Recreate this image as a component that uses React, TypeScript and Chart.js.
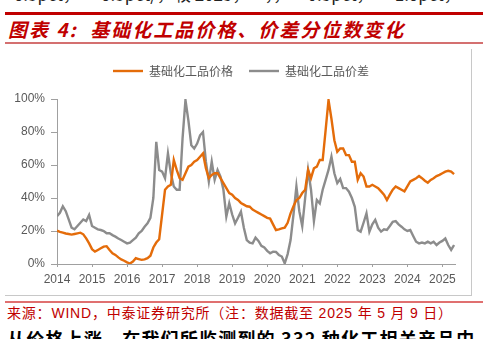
import React, { useEffect, useRef } from 'react';
import { Chart, registerables } from 'chart.js';

Chart.register(...registerables);

// ---- data (monthly, Jan 2014 – May 2025) ----
const firstYear = 2014;
const lastX = 2025.36;
const yearTicks = [2014, 2015, 2016, 2017, 2018, 2019, 2020, 2021, 2022, 2023, 2024, 2025];
const percentTicks = [0, 20, 40, 60, 80, 100];
const seriesNames = ['基础化工品价格', '基础化工品价差'];

const priceValues = [
  20.2, 19.5, 19.0, 18.5, 18.2, 17.8, 18.2, 18.6, 19.0, 18.0, 15.5, 12.5, // 2014
  9.0, 7.5, 8.5, 9.5, 10.5, 10.8, 8.5, 6.5, 5.5, 4.0, 2.8, 2.0, // 2015
  1.0, 0.3, 1.5, 3.5, 3.0, 2.5, 2.8, 3.5, 5.0, 10.0, 13.0, 15.0, // 2016
  30.0, 45.0, 47.0, 48.0, 63.0, 57.0, 52.0, 51.0, 55.0, 59.0, 60.0, 62.0, // 2017
  63.0, 65.0, 67.0, 58.0, 52.0, 54.0, 55.0, 55.0, 52.0, 49.0, 46.0, 43.0, // 2018
  42.0, 40.0, 38.8, 37.0, 36.0, 35.0, 34.7, 33.0, 32.0, 31.0, 30.0, 29.0, // 2019
  28.0, 27.5, 24.0, 20.6, 21.0, 21.6, 22.0, 25.0, 30.7, 35.0, 38.8, 40.0, // 2020
  43.0, 45.0, 57.0, 52.0, 58.0, 59.0, 63.0, 63.0, 81.0, 99.4, 88.0, 75.0, // 2021
  68.0, 70.0, 70.0, 66.0, 66.0, 62.0, 62.0, 51.0, 55.0, 53.0, 47.0, 47.0, // 2022
  48.0, 47.0, 46.0, 44.0, 42.0, 38.8, 42.0, 45.0, 47.0, 46.0, 45.0, 44.0, // 2023
  47.0, 50.0, 51.0, 52.0, 53.3, 52.0, 50.5, 49.3, 51.0, 52.0, 53.3, 54.0, // 2024
  55.0, 56.0, 56.5, 56.0, 54.5, // 2025
];

const spreadValues = [
  29.0, 31.0, 35.0, 32.0, 27.0, 22.0, 21.0, 23.0, 25.0, 27.0, 26.0, 29.7, // 2014
  23.0, 22.0, 21.0, 20.6, 20.0, 18.6, 18.6, 17.5, 16.6, 15.5, 14.5, 13.5, // 2015
  12.5, 13.0, 14.5, 16.0, 18.6, 20.0, 22.6, 24.6, 28.0, 40.0, 74.0, 57.0, // 2016
  56.0, 52.0, 67.0, 55.0, 47.0, 45.0, 45.0, 76.0, 99.4, 87.0, 72.0, 70.0, // 2017
  73.0, 78.0, 80.0, 62.0, 50.0, 62.0, 51.0, 57.0, 53.0, 45.0, 28.7, 36.8, // 2018
  30.0, 24.6, 28.0, 31.7, 22.0, 14.5, 13.0, 12.5, 16.0, 14.0, 11.0, 10.0, // 2019
  8.0, 6.5, 7.5, 7.3, 5.5, 4.5, 0.4, 6.0, 14.5, 30.0, 47.0, 32.0, // 2020
  23.0, 40.0, 57.0, 45.0, 26.0, 38.8, 36.7, 45.0, 51.0, 57.0, 65.0, 55.0, // 2021
  49.0, 51.5, 46.0, 46.0, 43.8, 40.0, 34.7, 20.6, 19.6, 25.0, 30.7, 19.6, // 2022
  24.0, 26.7, 22.0, 19.6, 21.0, 20.6, 23.0, 25.6, 26.0, 24.0, 22.6, 21.0, // 2023
  20.0, 20.6, 17.0, 13.5, 12.5, 13.0, 12.5, 13.5, 12.5, 13.5, 11.5, 13.0, // 2024
  14.0, 15.5, 11.5, 8.5, 11.5, // 2025
];

const ORANGE = '#E46C0A';
const GRAY = '#8C8C8C';
const AXIS = '#A0A0A0';
const TICK = '#595959';
const RED = '#C00000';

const monthToX = (i: number) => firstYear + i / 12;

const legendSpacer = {
  id: 'legendSpacer',
  beforeInit(chart: any) {
    const legend = chart.legend;
    if (!legend) return;
    const orig = legend.fit;
    legend.fit = function () {
      orig.call(this);
      this.height += 12;
    };
  },
  afterLayout(chart: any) {
    if (chart.legend) chart.legend.left += 21;
  },
};

function ChartCanvas() {
  const ref = useRef<HTMLCanvasElement | null>(null);
  useEffect(() => {
    if (!ref.current) return;
    const chart = new Chart(ref.current, {
      type: 'line',
      data: {
        datasets: [
          {
            label: seriesNames[0],
            data: priceValues.map((v, i) => ({ x: monthToX(i), y: v })),
            borderColor: ORANGE,
            backgroundColor: ORANGE,
            borderWidth: 2.4,
            pointRadius: 0,
            tension: 0,
            fill: false,
          },
          {
            label: seriesNames[1],
            data: spreadValues.map((v, i) => ({ x: monthToX(i), y: v })),
            borderColor: GRAY,
            backgroundColor: GRAY,
            borderWidth: 2.4,
            pointRadius: 0,
            tension: 0,
            fill: false,
          },
        ],
      },
      options: {
        animation: false,
        responsive: false,
        maintainAspectRatio: false,
        layout: { padding: { left: 0, right: 16, top: 0, bottom: 0 } },
        plugins: {
          legend: {
            display: true,
            position: 'top',
            labels: {
              usePointStyle: true,
              pointStyle: 'line',
              pointStyleWidth: 30,
              padding: 16,
              color: TICK,
              font: { size: 12, family: "'Noto Sans CJK SC', sans-serif" },
            },
          },
          tooltip: { enabled: false },
        },
        scales: {
          x: {
            type: 'linear',
            min: firstYear,
            max: lastX,
            afterBuildTicks: (axis: any) => {
              axis.ticks = yearTicks.map((v) => ({ value: v }));
            },
            afterFit: (s: any) => {
              s.height = 31;
            },
            grid: { drawOnChartArea: false, drawTicks: true, tickLength: 3, color: AXIS },
            border: { color: AXIS, width: 1 },
            ticks: {
              color: TICK,
              font: { size: 12, family: "'Liberation Sans', Arial, sans-serif" },
              padding: 5,
              maxRotation: 0,
              autoSkip: false,
              callback: (v: any) => String(v),
            },
          },
          y: {
            min: 0,
            max: 100,
            afterBuildTicks: (axis: any) => {
              axis.ticks = percentTicks.map((v) => ({ value: v }));
            },
            afterFit: (s: any) => {
              s.width = 51;
            },
            grid: { drawOnChartArea: false, drawTicks: true, tickLength: 6, color: AXIS },
            border: { color: AXIS, width: 1 },
            ticks: {
              color: TICK,
              font: { size: 12, family: "'Liberation Sans', Arial, sans-serif" },
              padding: 6,
              callback: (v: any) => v + '%',
            },
          },
        },
      },
      plugins: [legendSpacer],
    } as any);
    return () => chart.destroy();
  }, []);
  return <canvas ref={ref} width={465} height={246} style={{ display: 'block', width: 465, height: 246 }} />;
}

export default function App() {
  const cjk = "'Noto Sans CJK SC', sans-serif";
  return (
    <div style={{ position: 'absolute', left: 0, top: 0, width: 488, height: 339, overflow: 'hidden', background: '#fff' }}>
      <div style={{ position: 'absolute', left: 8, top: -15, fontSize: 17, lineHeight: '18px', color: '#222', fontFamily: cjk, whiteSpace: 'pre' }}>
        {'-0.5pct，    -0.5pct/，较 2025，    ，，   -0.5pct，    -1.0pct，'}
      </div>
      <div style={{ position: 'absolute', left: 5, top: 12, width: 478, height: 3, background: RED }} />
      <div style={{ position: 'absolute', left: 8, top: 18, fontSize: 19, lineHeight: '22px', color: RED, fontFamily: cjk, fontWeight: 'bold', fontStyle: 'italic', letterSpacing: 2, whiteSpace: 'pre' }}>
        {'图表 4:  基础化工品价格、价差分位数变化'}
      </div>
      <div style={{ position: 'absolute', left: 5, top: 42, width: 478, height: 2, background: '#D47070' }} />
      <div style={{ position: 'absolute', left: 5, top: 49, width: 466, height: 246, borderRight: '1px solid #C8C8C8', borderBottom: '1px solid #C8C8C8' }} />
      <div style={{ position: 'absolute', left: 6, top: 49, width: 465, height: 246 }}>
        <ChartCanvas />
      </div>
      <div style={{ position: 'absolute', left: 5, top: 301, width: 478, height: 2, background: '#E07070' }} />
      <div style={{ position: 'absolute', left: 7, top: 305, fontSize: 14, lineHeight: '16px', color: RED, fontFamily: "'Liberation Sans', 'Noto Sans CJK SC', sans-serif", letterSpacing: 0.8, whiteSpace: 'pre' }}>
        {'来源：WIND，中泰证券研究所（注：数据截至 2025 年 5 月 9 日）'}
      </div>
      <div style={{ position: 'absolute', left: 7, top: 328, fontSize: 18, lineHeight: '20px', color: '#000', fontFamily: cjk, fontWeight: 'bold', letterSpacing: 1.2, whiteSpace: 'pre' }}>
        {'从价格上涨，在我们所监测到的 332 种化工相关产品中'}
      </div>
    </div>
  );
}
